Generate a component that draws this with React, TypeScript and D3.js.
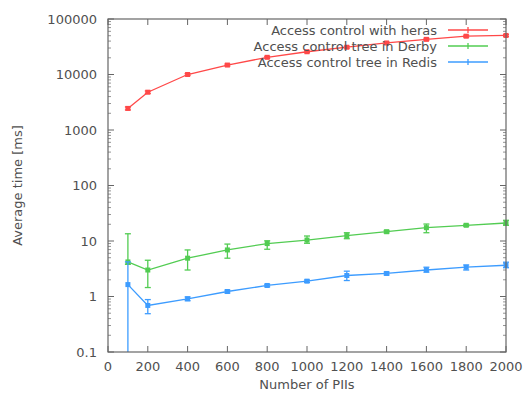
import * as d3 from 'd3';
import React from 'react';

// x values (number of PIIs)
const piis = [100, 200, 400, 600, 800, 1000, 1200, 1400, 1600, 1800, 2000];

// average time [ms] and error bar ends
const herasMean = [2450, 4800, 10000, 14800, 20400, 25700, 31000, 37000, 43000, 49000, 50500];
const herasLow = [2300, 4550, 9600, 14200, 19600, 24700, 29800, 35500, 41000, 47000, 48500];
const herasHigh = [2600, 5050, 10400, 15400, 21200, 26700, 32200, 38500, 45000, 51000, 52500];

const derbyMean = [4.2, 3.0, 4.9, 6.9, 9.0, 10.4, 12.5, 14.7, 17.4, 19.2, 21.1];
const derbyLow = [3.8, 1.45, 3.0, 4.9, 7.1, 9.1, 11.0, 14.0, 14.1, 18.4, 19.2];
const derbyHigh = [13.5, 4.5, 6.9, 8.8, 10.1, 12.3, 14.1, 15.5, 20.2, 20.0, 23.6];

const redisMean = [1.64, 0.69, 0.91, 1.23, 1.58, 1.89, 2.39, 2.6, 3.0, 3.37, 3.66];
const redisLow = [0.05, 0.49, 0.84, 1.16, 1.5, 1.8, 1.94, 2.45, 2.75, 3.0, 3.3];
const redisHigh = [4.2, 0.88, 0.98, 1.3, 1.66, 1.98, 2.86, 2.75, 3.37, 3.7, 4.15];

const xTicks = [0, 200, 400, 600, 800, 1000, 1200, 1400, 1600, 1800, 2000];
const yTicks = [0.1, 1, 10, 100, 1000, 10000, 100000];

const seriesNames = ['Access control with heras', 'Access control tree in Derby', 'Access control tree in Redis'];
const seriesColors = ['#ff4848', '#52cc52', '#3d9cff'];

const W = 531;
const H = 397;
const margin = { top: 19, right: 25, bottom: 45, left: 108 };
const axisColor = '#666';
const textColor = '#505050';
const font = 'DejaVu Sans, sans-serif';

const App = () => {
  const x = d3.scaleLinear().domain([0, 2000]).range([margin.left, W - margin.right]);
  const y = d3.scaleLog().domain([0.1, 100000]).range([H - margin.bottom, margin.top]);
  // error bars that go below 0.1 stop at the bottom border
  const clampY = (v: number) => Math.min(y(Math.max(v, 1e-6)) as number, y(0.1) as number);

  const series = [
    { mean: herasMean, low: herasLow, high: herasHigh },
    { mean: derbyMean, low: derbyLow, high: derbyHigh },
    { mean: redisMean, low: redisLow, high: redisHigh },
  ];

  const line = d3.line<number>()
    .x((d, i) => x(piis[i]))
    .y((d) => y(d));

  // minor ticks 2..9 within each decade
  const minorTicks: number[] = [];
  for (let e = -1; e < 5; e++) {
    for (let m = 2; m <= 9; m++) minorTicks.push(m * Math.pow(10, e));
  }

  const x0 = margin.left;
  const x1 = W - margin.right;
  const yb = H - margin.bottom;
  const yt = margin.top;

  return (
    <svg width={W} height={H} style={{ position: 'absolute', left: 0, top: 0, background: '#fff' }}>
      {/* ticks */}
      <g stroke={axisColor} strokeWidth={1}>
        {yTicks.map((t) => (
          <g key={'y' + t}>
            <line x1={x0} x2={x0 + 6} y1={y(t)} y2={y(t)} />
            <line x1={x1} x2={x1 - 6} y1={y(t)} y2={y(t)} />
          </g>
        ))}
        {minorTicks.map((t) => (
          <g key={'m' + t}>
            <line x1={x0} x2={x0 + 3} y1={y(t)} y2={y(t)} strokeOpacity={0.7} />
            <line x1={x1} x2={x1 - 3} y1={y(t)} y2={y(t)} strokeOpacity={0.7} />
          </g>
        ))}
        {xTicks.map((t) => (
          <g key={'x' + t}>
            <line x1={x(t)} x2={x(t)} y1={yb} y2={yb - 6} />
            <line x1={x(t)} x2={x(t)} y1={yt} y2={yt + 6} />
          </g>
        ))}
      </g>

      {/* tick labels */}
      <g fill={textColor} fontFamily={font} fontSize={13}>
        {yTicks.map((t) => (
          <text key={'yl' + t} x={x0 - 11} y={y(t)} dy="0.35em" textAnchor="end">{String(t)}</text>
        ))}
        {xTicks.map((t) => (
          <text key={'xl' + t} x={x(t)} y={yb + 19} textAnchor="middle">{String(t)}</text>
        ))}
        <text x={(x0 + x1) / 2} y={H - 8} textAnchor="middle">Number of PIIs</text>
        <text transform={`translate(22,${(yt + yb) / 2}) rotate(-90)`} textAnchor="middle">Average time [ms]</text>
      </g>

      {/* series */}
      {series.map((s, k) => (
        <g key={'s' + k} stroke={seriesColors[k]} fill="none" strokeWidth={1.3}>
          <path d={line(s.mean) || ''} />
          {s.mean.map((m, i) => {
            const cx = x(piis[i]);
            const hi = y(s.high[i]);
            const lo = clampY(s.low[i]);
            const cy = y(m);
            return (
              <g key={i}>
                <line x1={cx} x2={cx} y1={hi} y2={lo} />
                <line x1={cx - 3} x2={cx + 3} y1={hi} y2={hi} />
                {s.low[i] > 0.1 && <line x1={cx - 3} x2={cx + 3} y1={lo} y2={lo} />}
                <rect x={cx - 2.5} y={cy - 2.5} width={5} height={5} fill={seriesColors[k]} stroke="none" />
              </g>
            );
          })}
        </g>
      ))}

      {/* legend */}
      <g fontFamily={font} fontSize={13} fill={textColor}>
        {seriesNames.map((n, k) => {
          const ly = 30 + k * 16;
          return (
            <g key={'l' + k}>
              <text x={437} y={ly} dy="0.35em" textAnchor="end">{n}</text>
              <line x1={448} x2={488} y1={ly} y2={ly} stroke={seriesColors[k]} strokeWidth={1.3} />
              <line x1={468} x2={468} y1={ly - 3} y2={ly + 3} stroke={seriesColors[k]} strokeWidth={1.3} />
            </g>
          );
        })}
      </g>

      {/* border */}
      <rect x={x0} y={yt} width={x1 - x0} height={yb - yt} fill="none" stroke={axisColor} strokeWidth={1.2} />
    </svg>
  );
};

export default App;
